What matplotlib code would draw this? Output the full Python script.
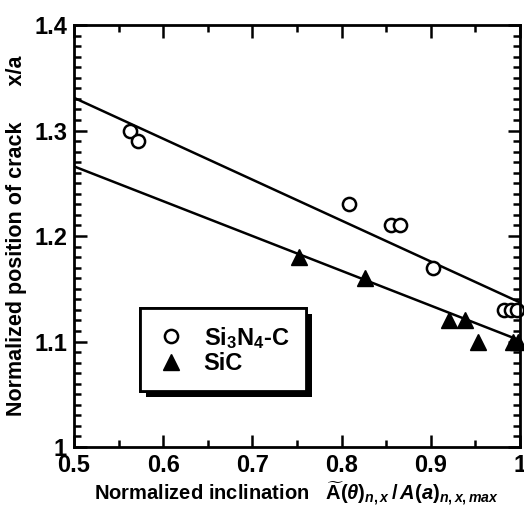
import numpy as np
import matplotlib
matplotlib.use('Agg')
import matplotlib.pyplot as plt
import matplotlib.patheffects as pe
from matplotlib.ticker import MultipleLocator

plt.rcParams['font.family'] = ['Liberation Sans', 'DejaVu Sans']
plt.rcParams['font.weight'] = 'bold'
plt.rcParams['axes.labelweight'] = 'bold'
plt.rcParams['mathtext.fontset'] = 'custom'
plt.rcParams['mathtext.rm'] = 'Liberation Sans:bold'
plt.rcParams['mathtext.it'] = 'Liberation Sans:italic:bold'
plt.rcParams['mathtext.bf'] = 'Liberation Sans:bold'

# Si3N4-C measurements
sin_x = [0.563, 0.572, 0.808, 0.855, 0.866, 0.903, 0.982, 0.990, 0.997]
sin_y = [1.300, 1.290, 1.230, 1.210, 1.210, 1.170, 1.130, 1.130, 1.130]

# SiC measurements
sic_x = [0.752, 0.826, 0.920, 0.938, 0.953, 0.992, 0.998]
sic_y = [1.180, 1.160, 1.120, 1.120, 1.100, 1.100, 1.100]

# fitted lines (end points at x = 0.5 and 1.0)
fit_x = [0.5, 1.0]
sin_fit = [1.331, 1.137]
sic_fit = [1.266, 1.101]

fig = plt.figure(figsize=(5.24, 5.07), dpi=100)
ax = fig.add_axes([0.1412, 0.1183, 0.8512, 0.8324])

ax.plot(fit_x, sin_fit, color='k', lw=1.8)
ax.plot(fit_x, sic_fit, color='k', lw=1.8)
ax.plot(sin_x, sin_y, 'o', ms=9.5, mfc='white', mec='k', mew=1.8,
        label=r'Si$_3$N$_4$-C', clip_on=False)
ax.plot(sic_x, sic_y, '^', ms=11.5, color='k', label='SiC', clip_on=False)

ax.set_xlim(0.5, 1.0)
ax.set_ylim(1.0, 1.4)
ax.xaxis.set_major_locator(MultipleLocator(0.1))
ax.xaxis.set_minor_locator(MultipleLocator(0.05))
ax.yaxis.set_major_locator(MultipleLocator(0.1))
ax.yaxis.set_minor_locator(MultipleLocator(0.01))
ax.xaxis.set_major_formatter(plt.FuncFormatter(lambda v, p: f'{v:g}'))
ax.yaxis.set_major_formatter(plt.FuncFormatter(lambda v, p: f'{v:g}'))
ax.tick_params(which='both', direction='in', top=True, right=True, width=1.8)
ax.tick_params(which='major', length=9, labelsize=17, pad=5)
ax.tick_params(which='minor', length=5)
for s in ax.spines.values():
    s.set_linewidth(2)

ax.set_xlabel(r'Normalized inclination   $\widetilde{\mathrm{A}}(\theta)_{n,x}\,/\,A(a)_{n,x,max}$',
              fontsize=14.5, labelpad=2)
ax.set_ylabel('Normalized position of crack      x/a', fontsize=15.5, labelpad=5)

leg = ax.legend(loc='upper left', bbox_to_anchor=(0.148, 0.329),
                borderaxespad=0, fontsize=17, fancybox=False,
                handletextpad=0.8, borderpad=0.7, labelspacing=0.05,
                handlelength=1.2, framealpha=1)
frame = leg.get_frame()
frame.set_edgecolor('k')
frame.set_linewidth(2)
frame.set_path_effects([pe.withSimplePatchShadow(offset=(4, -4), shadow_rgbFace='k', alpha=1),
                        pe.Normal()])

fig.savefig('out.png', dpi=100)
